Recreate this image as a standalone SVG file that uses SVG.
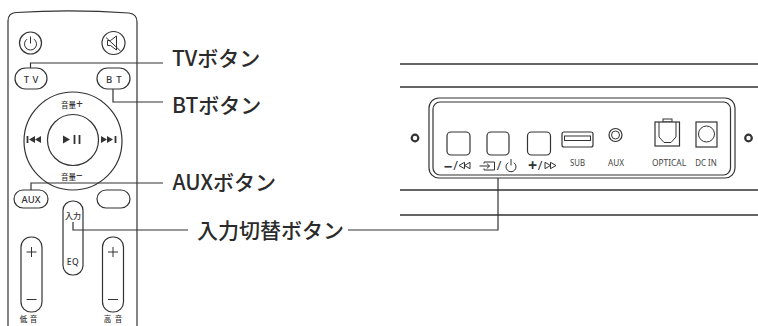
<svg xmlns="http://www.w3.org/2000/svg" width="758" height="326" viewBox="0 0 758 326">
  <style>
    .ln{fill:none;stroke:#333;stroke-width:1.2}
    .key{fill:#fff;stroke:#333;stroke-width:1.2}
    .thin{fill:none;stroke:#333;stroke-width:1}
    .solid{fill:#333;stroke:none}
    .bar{fill:none;stroke:#333;stroke-width:1.8}
    .rail{fill:none;stroke:#333;stroke-width:1.5}
    .lead{fill:none;stroke:#333;stroke-width:1.2}
    .lbl{font-family:"Noto Sans CJK JP","Noto Sans",sans-serif;font-size:21px;font-weight:500;fill:#2b2b2b}
    .rk{font-family:"Noto Sans","Noto Sans CJK JP",sans-serif;font-weight:500;fill:#333;text-anchor:middle}
    .port{font-family:"Noto Sans",sans-serif;font-size:9px;fill:#444;text-anchor:middle}
    .sym{font-family:"Noto Sans","DejaVu Sans",sans-serif;fill:#333;text-anchor:middle}
  </style>
  <rect width="758" height="326" fill="#fff"/>

  <!-- remote control -->
  <g id="remote">
    <path class="ln" d="M8,326 V21 Q8,13 16,12.5 Q72,9 129,13 Q137,14 137,22 V326"/>
    <g id="key-power">
      <circle class="key" cx="30.5" cy="43" r="11"/>
      <path class="thin" d="M27.1,39.1 A6,6 0 1 0 33.9,39.1"/>
      <path class="thin" d="M30.5,36.5 V43.5"/>
    </g>
    <g id="key-mute">
      <circle class="key" cx="113.5" cy="43" r="11.5"/>
      <path class="thin" d="M107.5,40.5 h3 l6,-4.5 v14 l-6,-4.5 h-3 z"/>
      <path class="thin" d="M106,37.5 L120.5,51"/>
    </g>
    <g id="key-tv">
      <rect class="key" x="15" y="68" width="32" height="21" rx="10.5"/>
      <text class="rk" x="26.5 35.5" y="83" font-size="9.5">TV</text>
    </g>
    <g id="key-bt">
      <rect class="key" x="97" y="68" width="33" height="21" rx="10.5"/>
      <text class="rk" x="109 119" y="83" font-size="9.5">BT</text>
    </g>
    <g id="key-ring">
      <circle class="key" cx="73" cy="141" r="49"/>
      <circle class="key" cx="73" cy="140" r="25.5"/>
      <text class="rk" x="72" y="108" font-size="7.5">音量<tspan font-size="12" font-weight="400">+</tspan></text>
      <text class="rk" x="72" y="180" font-size="7.5">音量<tspan font-size="12" font-weight="400">−</tspan></text>
      <!-- previous -->
      <path class="bar" d="M27.5,136 V143"/>
      <polygon class="solid" points="29,139.5 35,136 35,143"/>
      <polygon class="solid" points="35,139.5 41,136 41,143"/>
      <!-- next -->
      <polygon class="solid" points="107,139.5 101,136 101,143"/>
      <polygon class="solid" points="113,139.5 107,136 107,143"/>
      <path class="bar" d="M115.5,136 V143"/>
      <!-- play / pause -->
      <polygon class="solid" points="63,135.5 63,143.5 70,139.5"/>
      <path class="bar" d="M74.5,135 V144 M79.5,135 V144"/>
    </g>
    <g id="key-aux">
      <rect class="key" x="14" y="190" width="34" height="18" rx="9"/>
      <text class="rk" x="31" y="202.5" font-size="9.5">AUX</text>
    </g>
    <g id="key-blank">
      <rect class="key" x="97" y="190" width="33" height="18" rx="9"/>
    </g>
    <g id="key-input-eq">
      <rect class="key" x="63" y="201" width="20" height="74" rx="9.5"/>
      <text class="rk" x="73" y="219" font-size="8">入力</text>
      <text class="rk" x="73" y="264.5" font-size="8.5" letter-spacing="0.5">EQ</text>
    </g>
    <g id="key-bass">
      <rect class="key" x="21" y="237" width="21" height="75" rx="10"/>
      <path class="thin" d="M26.5,252 H36.5 M31.5,247 V257 M26.5,299.5 H36.5"/>
      <text class="rk" x="23.5 33.5" y="321.5" font-size="7.5">低音</text>
    </g>
    <g id="key-treble">
      <rect class="key" x="102.5" y="237" width="21" height="75" rx="10"/>
      <path class="thin" d="M108,252 H118 M113,247 V257 M108,299.5 H118"/>
      <text class="rk" x="107.5 118.5" y="321.5" font-size="7.5">高音</text>
    </g>
  </g>

  <!-- soundbar rear panel -->
  <g id="soundbar">
    <path class="rail" d="M400,64 H758 M400,87 H758 M400,190 H758 M400,215 H758"/>
    <rect class="key" x="429" y="98" width="306" height="80" rx="10"/>
    <rect class="key" x="433" y="102" width="297.5" height="73" rx="7"/>
    <circle cx="415" cy="138" r="3.3" fill="#fff" stroke="#333" stroke-width="2.2"/>
    <circle cx="748.5" cy="138" r="3.3" fill="#fff" stroke="#333" stroke-width="2.2"/>

    <g id="panel-vol-down">
      <rect class="key" x="447" y="132" width="23" height="23" rx="4"/>
      <text class="sym" x="448" y="171.5" font-size="15" font-weight="bold">−</text>
      <text class="sym" x="455.5" y="170" font-size="12.5">/</text>
      <path class="thin" d="M459,165.5 L464.5,162.3 V168.7 Z M464.5,165.5 L470,162.3 V168.7 Z"/>
    </g>
    <g id="panel-input-power">
      <rect class="key" x="487" y="132" width="22" height="23" rx="4"/>
      <path class="thin" d="M484,163.5 V162 H494.5 V170 H484 V168.5 M479.5,166 H489.5 M486.8,163.5 L489.5,166 L486.8,168.5"/>
      <text class="sym" x="499" y="170" font-size="12.5">/</text>
      <path class="thin" d="M508.2,162.6 A5,5 0 1 0 513.8,162.6 M511,159 V165.5"/>
    </g>
    <g id="panel-vol-up">
      <rect class="key" x="527.5" y="132" width="23" height="23" rx="4"/>
      <text class="sym" x="532.5" y="171" font-size="16" font-weight="bold">+</text>
      <text class="sym" x="540" y="170" font-size="12.5">/</text>
      <path class="thin" d="M550.5,165.5 L545,162.3 V168.7 Z M556,165.5 L550.5,162.3 V168.7 Z"/>
    </g>
    <g id="port-sub">
      <rect class="key" x="562" y="132" width="31" height="15" rx="2"/>
      <rect class="thin" x="564.5" y="136" width="26" height="4.5"/>
      <text class="port" x="577.5" y="166" textLength="15" lengthAdjust="spacingAndGlyphs">SUB</text>
    </g>
    <g id="port-aux">
      <circle class="key" cx="615.5" cy="135" r="6.5"/>
      <circle class="thin" cx="615.5" cy="135" r="4"/>
      <text class="port" x="616" y="166" textLength="16" lengthAdjust="spacingAndGlyphs">AUX</text>
    </g>
    <g id="port-optical">
      <rect class="thin" x="663" y="119" width="9" height="3"/>
      <rect class="key" x="655" y="122" width="24.5" height="24"/>
      <path class="thin" d="M659,122 V137 L664,142.5 H671 L676,137 V122"/>
      <text class="port" x="669" y="166" textLength="34" lengthAdjust="spacingAndGlyphs">OPTICAL</text>
    </g>
    <g id="port-dcin">
      <rect class="key" x="696" y="122" width="21" height="25"/>
      <circle class="thin" cx="706.5" cy="134" r="8"/>
      <text class="port" x="706" y="166" textLength="21.5" lengthAdjust="spacingAndGlyphs">DC IN</text>
    </g>
  </g>

  <!-- leader lines -->
  <g id="connectors">
    <path class="lead" d="M30.5,68 V63 H163"/>
    <path class="lead" d="M113,89 V102 H163"/>
    <path class="lead" d="M31,190 V183 H163"/>
    <path class="lead" d="M73,222 V230 H188"/>
    <path class="lead" d="M348,230 H498 V178"/>
  </g>

  <!-- callout labels -->
  <g id="label-tv"><text class="lbl" x="172" y="66">TVボタン</text></g>
  <g id="label-bt"><text class="lbl" x="172" y="113">BTボタン</text></g>
  <g id="label-aux"><text class="lbl" x="172.5" y="190">AUXボタン</text></g>
  <g id="label-input"><text class="lbl" x="197" y="238">入力切替ボタン</text></g>
</svg>
